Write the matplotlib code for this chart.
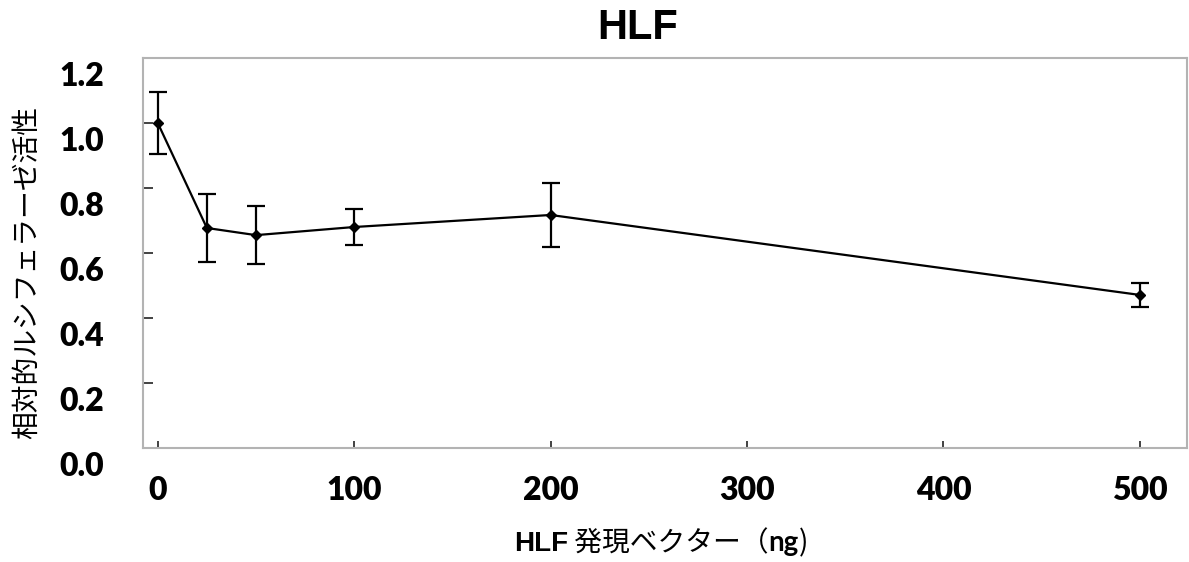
import matplotlib
matplotlib.use('Agg')
import matplotlib.pyplot as plt
from matplotlib.offsetbox import TextArea, HPacker, AnchoredOffsetbox
from matplotlib.transforms import ScaledTranslation

# HLF expression vector dose (ng) vs relative luciferase activity
dose = [0, 25, 50, 100, 200, 500]
activity = [1.00, 0.677, 0.655, 0.68, 0.717, 0.471]
activity_err = [0.095, 0.105, 0.09, 0.055, 0.097, 0.037]

xticks = [0, 100, 200, 300, 400, 500]
yticks = [0.0, 0.2, 0.4, 0.6, 0.8, 1.0, 1.2]

title = 'HLF'
ylabel = '相対的ルシフェラーゼ活性'
xlabel_parts = [('HLF', 'Liberation Sans', 'bold'),
                (' 発現ベクター（', 'Noto Sans CJK JP', 'normal'),
                ('ng', 'Lato', 'bold'),
                (')', 'Noto Sans CJK JP', 'normal')]

fig = plt.figure(figsize=(11.89, 5.62), dpi=100)
ax = fig.add_axes([0.1203, 0.2028, 0.8780, 0.6940])

ax.errorbar(dose, activity, yerr=activity_err, color='black', lw=1.6,
            marker='D', ms=5.5, elinewidth=1.6, capsize=6.5, capthick=1.6)

ax.set_xlim(-7.5, 524)
ax.set_ylim(0, 1.2)
ax.set_xticks(xticks)
ax.set_yticks(yticks)
ax.set_xticklabels([str(t) for t in xticks])
ax.set_yticklabels(['%.1f' % t for t in yticks])

for side in ['left', 'right', 'top', 'bottom']:
    ax.spines[side].set_color('#b3b3b3')
    ax.spines[side].set_linewidth(1.5)

ax.tick_params(axis='y', direction='in', length=7, width=1.3, color='#333333',
               pad=28, labelsize=23)
ax.tick_params(axis='x', direction='in', length=5, width=1.3, color='#333333',
               pad=20, labelsize=23)
for lab in ax.get_xticklabels() + ax.get_yticklabels():
    lab.set_fontfamily('Lato')
    lab.set_fontweight('heavy')
# y labels sit a little below their ticks
shift = ScaledTranslation(0, -16 / 100, fig.dpi_scale_trans)
for lab in ax.get_yticklabels():
    lab.set_transform(lab.get_transform() + shift)

fig.text(0.536, 0.95, title, ha='center', va='center', fontsize=30,
         fontweight='bold', family='Liberation Sans')

fig.text(0.023, 0.516, ylabel, rotation=90, ha='center', va='center',
         fontsize=20, family=['Noto Sans CJK JP', 'DejaVu Sans'])

parts = [TextArea(s, textprops=dict(fontsize=20, family=[f, 'DejaVu Sans'],
                                    fontweight=w))
         for s, f, w in xlabel_parts]
box = HPacker(children=parts, align='baseline', pad=0, sep=0)
fig.add_artist(AnchoredOffsetbox(loc='center', child=box, frameon=False,
                                 bbox_to_anchor=(0.556, 0.034),
                                 bbox_transform=fig.transFigure))

fig.savefig('out.png', dpi=100)
